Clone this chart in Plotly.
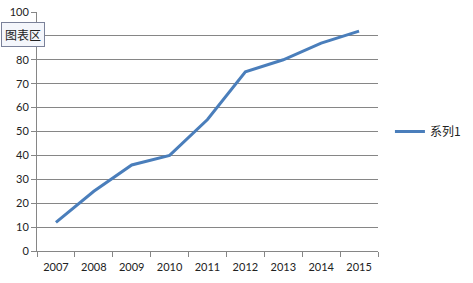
import plotly.graph_objects as go

years = ["2007", "2008", "2009", "2010", "2011", "2012", "2013", "2014", "2015"]
values = [12, 25, 36, 40, 55, 75, 80, 87, 92]
series_name = "系列1"
y_ticks = [0, 10, 20, 30, 40, 50, 60, 70, 80, 90, 100]

fig = go.Figure()
fig.add_trace(go.Scatter(
    x=years, y=values, mode="lines", name=series_name,
    line=dict(color="#4A7EBB", width=3),
))

fig.update_layout(
    width=473, height=283,
    margin=dict(l=37, r=95, t=12, b=32, autoexpand=False),
    paper_bgcolor="white", plot_bgcolor="white",
    font=dict(family="Lato, 'Noto Sans CJK SC', sans-serif", size=11, color="#222"),
    showlegend=True,
    legend=dict(x=1.035, y=0.5, xanchor="left", yanchor="middle",
                font=dict(size=12, family="'Noto Sans CJK SC', sans-serif"),
                itemwidth=30, bgcolor="rgba(0,0,0,0)"),
    xaxis=dict(type="category", range=[-0.5, 8.5], tickson="boundaries",
               ticks="outside", ticklen=5, tickcolor="#868686", tickangle=0,
               automargin=False, ticklabelstandoff=6,
               showline=True, linecolor="#868686", linewidth=1,
               showgrid=False, tickfont=dict(size=11)),
    yaxis=dict(range=[0, 100], tickvals=y_ticks, ticks="outside", ticklen=5,
               tickcolor="#868686", showline=True, linecolor="#868686",
               automargin=False,
               showgrid=True, gridcolor="#868686", gridwidth=1,
               zeroline=False, tickfont=dict(size=11)),
    annotations=[dict(text="图表区", xref="paper", yref="paper",
                      x=-0.105, y=0.905, xanchor="left", yanchor="middle",
                      showarrow=False, bgcolor="#F4F6FB", bordercolor="#7A8199",
                      borderwidth=1, borderpad=3,
                      font=dict(size=12, family="'Noto Sans CJK SC', sans-serif", color="#222"))],
)

fig.write_html("out.html")
